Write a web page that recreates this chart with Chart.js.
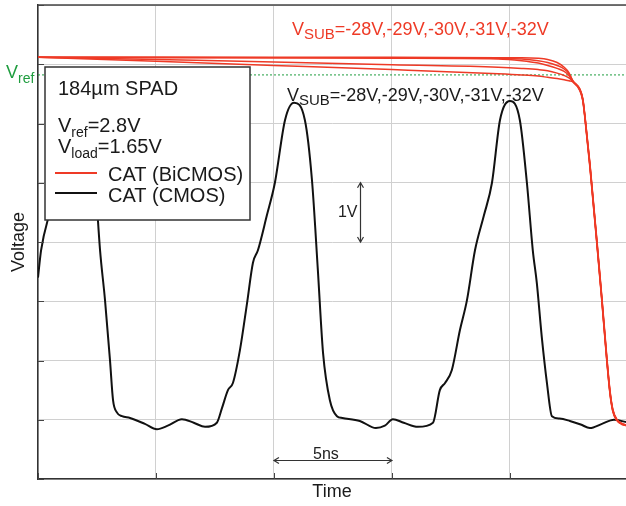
<!DOCTYPE html>
<html>
<head>
<meta charset="utf-8">
<script src="https://cdn.jsdelivr.net/npm/chart.js@4.4.1/dist/chart.umd.min.js"></script>
<style>
  html, body { margin: 0; padding: 0; background: #fff; }
  canvas { display: block; }
</style>
</head>
<body>
<canvas id="chart" width="626" height="506"></canvas>
<script>
// time in ns, voltage in V (1 V per division, 5 ns per division)
const timeTicks = [0, 5, 10, 15, 20];
const voltTicks = [0, 1, 2, 3, 4, 5, 6, 7, 8];
const timeMax = 24.92;
const vrefLevel = 6.82;

// CAT (CMOS) trace
const cmosTime = [0, 0.13, 0.5, 0.85, 1.28, 1.66, 2.12, 2.42, 2.63, 2.84,
  3.05, 3.18, 3.35, 3.56, 3.9, 4.53, 5.04, 5.5, 6.1, 6.6,
  7.08, 7.58, 7.8, 8.05, 8.26, 8.56, 8.86, 9.11, 9.32, 9.7,
  10.04, 10.47, 10.85, 11.31, 11.61, 11.86, 12.08, 12.37, 12.67, 12.9,
  13.64, 14.32, 14.7, 15.04, 15.5, 16.1, 16.74, 17.03, 17.25, 17.54,
  17.88, 18.18, 18.52, 18.9, 19.24, 19.58, 20.0, 20.42, 20.72, 20.97,
  21.14, 21.35, 21.57, 21.78, 22.1, 22.54, 23.0, 23.39, 23.9, 24.41, 24.92];
const cmosVolt = [3.4, 3.86, 4.5, 5.0, 6.06, 6.35, 6.06, 5.05, 3.86, 3.02,
  2.01, 1.33, 1.12, 1.06, 1.03, 0.93, 0.84, 0.90, 1.01, 0.95,
  0.88, 0.95, 1.2, 1.50, 1.62, 2.18, 2.97, 3.65, 3.86, 4.45,
  5.0, 6.06, 6.35, 6.06, 5.05, 3.53, 2.13, 1.33, 1.06, 1.03,
  0.98, 0.86, 0.90, 1.01, 0.95, 0.88, 0.95, 1.50, 1.62, 1.84,
  2.51, 3.02, 3.86, 4.45, 5.0, 6.06, 6.38, 6.06, 5.0, 3.86,
  3.31, 2.4, 1.62, 1.06, 1.02, 0.98, 0.92, 0.86, 0.93, 1.00, 0.96];

// CAT (BiCMOS) traces, one per VSUB
const bicmosTime = [0, 5, 10, 15, 19.5, 20.5, 21.2, 21.6, 22.0, 22.3, 22.5, 22.67,
  22.97, 23.09, 23.18, 23.39, 23.69, 23.90, 24.11, 24.24, 24.36, 24.53, 24.75, 24.92];
const bicmosVolt1 = [7.12, 7.12, 7.12, 7.12, 7.11, 7.11, 7.10, 7.08, 7.03, 6.95, 6.86, 6.72,
  6.58, 6.42, 6.13, 5.33, 4.02, 3.06, 2.05, 1.50, 1.18, 1.01, 0.94, 0.91];
const bicmosVolt2 = [7.12, 7.12, 7.11, 7.11, 7.10, 7.09, 7.06, 7.03, 6.98, 6.92, 6.84, 6.72,
  6.57, 6.41, 6.12, 5.31, 3.99, 3.03, 2.02, 1.48, 1.17, 1.00, 0.93, 0.91];
const bicmosVolt3 = [7.12, 7.11, 7.11, 7.10, 7.09, 7.06, 7.02, 6.98, 6.93, 6.88, 6.81, 6.71,
  6.57, 6.40, 6.11, 5.30, 3.98, 3.02, 2.01, 1.47, 1.16, 1.00, 0.93, 0.91];
const bicmosVolt4 = [7.12, 7.08, 7.04, 6.99, 6.95, 6.93, 6.91, 6.89, 6.85, 6.81, 6.77, 6.71,
  6.56, 6.39, 6.10, 5.28, 3.96, 3.00, 1.99, 1.45, 1.15, 0.99, 0.93, 0.91];
const bicmosVolt5 = [7.12, 7.05, 6.98, 6.91, 6.84, 6.82, 6.80, 6.78, 6.76, 6.74, 6.72, 6.70,
  6.55, 6.38, 6.08, 5.26, 3.94, 2.98, 1.97, 1.44, 1.14, 0.99, 0.92, 0.90];

const RED = '#ee3a26';
const GREEN = '#1f9d3f';
const FONT = '"Liberation Sans", Arial, sans-serif';

function toPoints(xs, ys) {
  return xs.map((x, i) => ({ x: x, y: ys[i] }));
}

function drawRich(ctx, x, y, parts, size, subSize, subShift, color) {
  ctx.fillStyle = color;
  ctx.textAlign = 'left';
  ctx.textBaseline = 'alphabetic';
  parts.forEach(([txt, sub]) => {
    ctx.font = (sub ? subSize : size) + 'px ' + FONT;
    ctx.fillText(txt, x, sub ? y + subShift : y);
    x += ctx.measureText(txt).width;
  });
}

function arrowHead(ctx, x, y, dx, dy) {
  const s = 5;
  ctx.beginPath();
  ctx.moveTo(x - dx * s - dy * s * 0.6, y - dy * s - dx * s * 0.6);
  ctx.lineTo(x, y);
  ctx.lineTo(x - dx * s + dy * s * 0.6, y - dy * s + dx * s * 0.6);
  ctx.stroke();
}

const decorations = {
  id: 'decorations',
  afterDatasetsDraw(chart) {
    const { ctx, chartArea: area, scales: { x, y } } = chart;
    ctx.save();

    // frame top and inner ticks
    ctx.strokeStyle = '#444';
    ctx.lineWidth = 1.5;
    ctx.beginPath();
    ctx.moveTo(area.left, area.top);
    ctx.lineTo(area.right, area.top);
    ctx.stroke();
    ctx.lineWidth = 1;
    ctx.beginPath();
    voltTicks.forEach(v => {
      const py = Math.round(y.getPixelForValue(v)) + 0.5;
      ctx.moveTo(area.left, py);
      ctx.lineTo(area.left + 6, py);
    });
    timeTicks.forEach(t => {
      const px = Math.round(x.getPixelForValue(t)) + 0.5;
      ctx.moveTo(px, area.bottom);
      ctx.lineTo(px, area.bottom - 6);
    });
    ctx.stroke();

    // 1V scale arrow
    const ax = Math.round(x.getPixelForValue(13.64)) + 0.5;
    const ay1 = y.getPixelForValue(5), ay2 = y.getPixelForValue(4);
    ctx.strokeStyle = '#333';
    ctx.lineWidth = 1.2;
    ctx.beginPath();
    ctx.moveTo(ax, ay1);
    ctx.lineTo(ax, ay2);
    ctx.stroke();
    arrowHead(ctx, ax, ay1, 0, -1);
    arrowHead(ctx, ax, ay2, 0, 1);
    ctx.fillStyle = '#222';
    ctx.font = '16px ' + FONT;
    ctx.textAlign = 'right';
    ctx.textBaseline = 'middle';
    ctx.fillText('1V', ax - 3, (ay1 + ay2) / 2);

    // 5ns scale arrow
    const by = Math.round(y.getPixelForValue(0.32)) + 0.5;
    const bx1 = x.getPixelForValue(10), bx2 = x.getPixelForValue(15);
    ctx.beginPath();
    ctx.moveTo(bx1, by);
    ctx.lineTo(bx2, by);
    ctx.stroke();
    arrowHead(ctx, bx1, by, -1, 0);
    arrowHead(ctx, bx2, by, 1, 0);
    ctx.textAlign = 'center';
    ctx.textBaseline = 'alphabetic';
    ctx.fillText('5ns', (bx1 + bx2) / 2 - 7, by - 2);

    // VSUB annotations
    drawRich(ctx, x.getPixelForValue(10.76), 35,
      [['V', false], ['SUB', true], ['=-28V,-29V,-30V,-31V,-32V', false]], 18, 15, 4, RED);
    drawRich(ctx, x.getPixelForValue(10.55), 101,
      [['V', false], ['SUB', true], ['=-28V,-29V,-30V,-31V,-32V', false]], 18, 15, 4, '#1a1a1a');

    // Vref label left of axis
    drawRich(ctx, 6, y.getPixelForValue(vrefLevel) + 3,
      [['V', false], ['ref', true]], 18, 14, 5, GREEN);

    ctx.restore();
  },
  afterDraw(chart) {
    const { ctx } = chart;
    ctx.save();
    // legend box
    ctx.fillStyle = '#fff';
    ctx.fillRect(45, 67, 205, 153);
    ctx.strokeStyle = '#333';
    ctx.lineWidth = 1.5;
    ctx.strokeRect(45, 67, 205, 153);

    drawRich(ctx, 58, 95, [['184µm SPAD', false]], 20, 14, 5, '#1a1a1a');
    drawRich(ctx, 58, 132, [['V', false], ['ref', true], ['=2.8V', false]], 20, 14, 5, '#1a1a1a');
    drawRich(ctx, 58, 153, [['V', false], ['load', true], ['=1.65V', false]], 20, 14, 5, '#1a1a1a');

    ctx.lineWidth = 2;
    ctx.strokeStyle = RED;
    ctx.beginPath();
    ctx.moveTo(55, 173);
    ctx.lineTo(97, 173);
    ctx.stroke();
    ctx.strokeStyle = '#111';
    ctx.beginPath();
    ctx.moveTo(55, 193);
    ctx.lineTo(97, 193);
    ctx.stroke();
    drawRich(ctx, 108, 181, [['CAT (BiCMOS)', false]], 20, 14, 5, '#1a1a1a');
    drawRich(ctx, 108, 202, [['CAT (CMOS)', false]], 20, 14, 5, '#1a1a1a');
    ctx.restore();
  }
};

function redSet(label, volts) {
  return {
    label: label,
    data: toPoints(bicmosTime, volts),
    borderColor: RED,
    borderWidth: 1.5,
    pointRadius: 0,
    cubicInterpolationMode: 'monotone',
    order: 1
  };
}

function renderChart() {
  const ctx = document.getElementById('chart').getContext('2d');
  new Chart(ctx, {
    type: 'line',
    data: {
      datasets: [
        redSet('VSUB=-28V', bicmosVolt1),
        redSet('VSUB=-29V', bicmosVolt2),
        redSet('VSUB=-30V', bicmosVolt3),
        redSet('VSUB=-31V', bicmosVolt4),
        redSet('VSUB=-32V', bicmosVolt5),
        {
          label: 'CAT (CMOS)',
          data: toPoints(cmosTime, cmosVolt),
          borderColor: '#111',
          borderWidth: 2,
          pointRadius: 0,
          cubicInterpolationMode: 'monotone',
          order: 2
        },
        {
          label: 'Vref',
          data: [{ x: 0, y: vrefLevel }, { x: timeMax, y: vrefLevel }],
          borderColor: GREEN,
          borderWidth: 1,
          borderDash: [2, 2],
          pointRadius: 0,
          order: 3
        }
      ]
    },
    options: {
      responsive: false,
      devicePixelRatio: 1,
      animation: false,
      layout: { padding: { top: 5, right: 0, bottom: 0, left: 0 } },
      plugins: { legend: { display: false }, tooltip: { enabled: false } },
      scales: {
        x: {
          type: 'linear',
          min: 0,
          max: timeMax,
          afterBuildTicks: s => { s.ticks = timeTicks.map(v => ({ value: v })); },
          afterFit: s => { s.height = 27; },
          ticks: { display: false },
          grid: { color: '#d0d0d0', lineWidth: 1, drawTicks: false },
          border: { color: '#333', width: 1.5 },
          title: { display: true, text: 'Time', color: '#1a1a1a', font: { size: 18, family: FONT }, padding: { top: 0, bottom: 3 } }
        },
        y: {
          type: 'linear',
          min: 0,
          max: 8,
          afterBuildTicks: s => { s.ticks = voltTicks.map(v => ({ value: v })); },
          afterFit: s => { s.width = 38; },
          ticks: { display: false },
          grid: { color: '#d0d0d0', lineWidth: 1, drawTicks: false },
          border: { color: '#333', width: 1.5 },
          title: { display: true, text: 'Voltage', color: '#1a1a1a', font: { size: 18, family: FONT }, padding: { top: 8, bottom: 0 } }
        }
      }
    },
    plugins: [decorations]
  });
}

document.addEventListener('DOMContentLoaded', () => {
  renderChart();
});
</script>
</body>
</html>
